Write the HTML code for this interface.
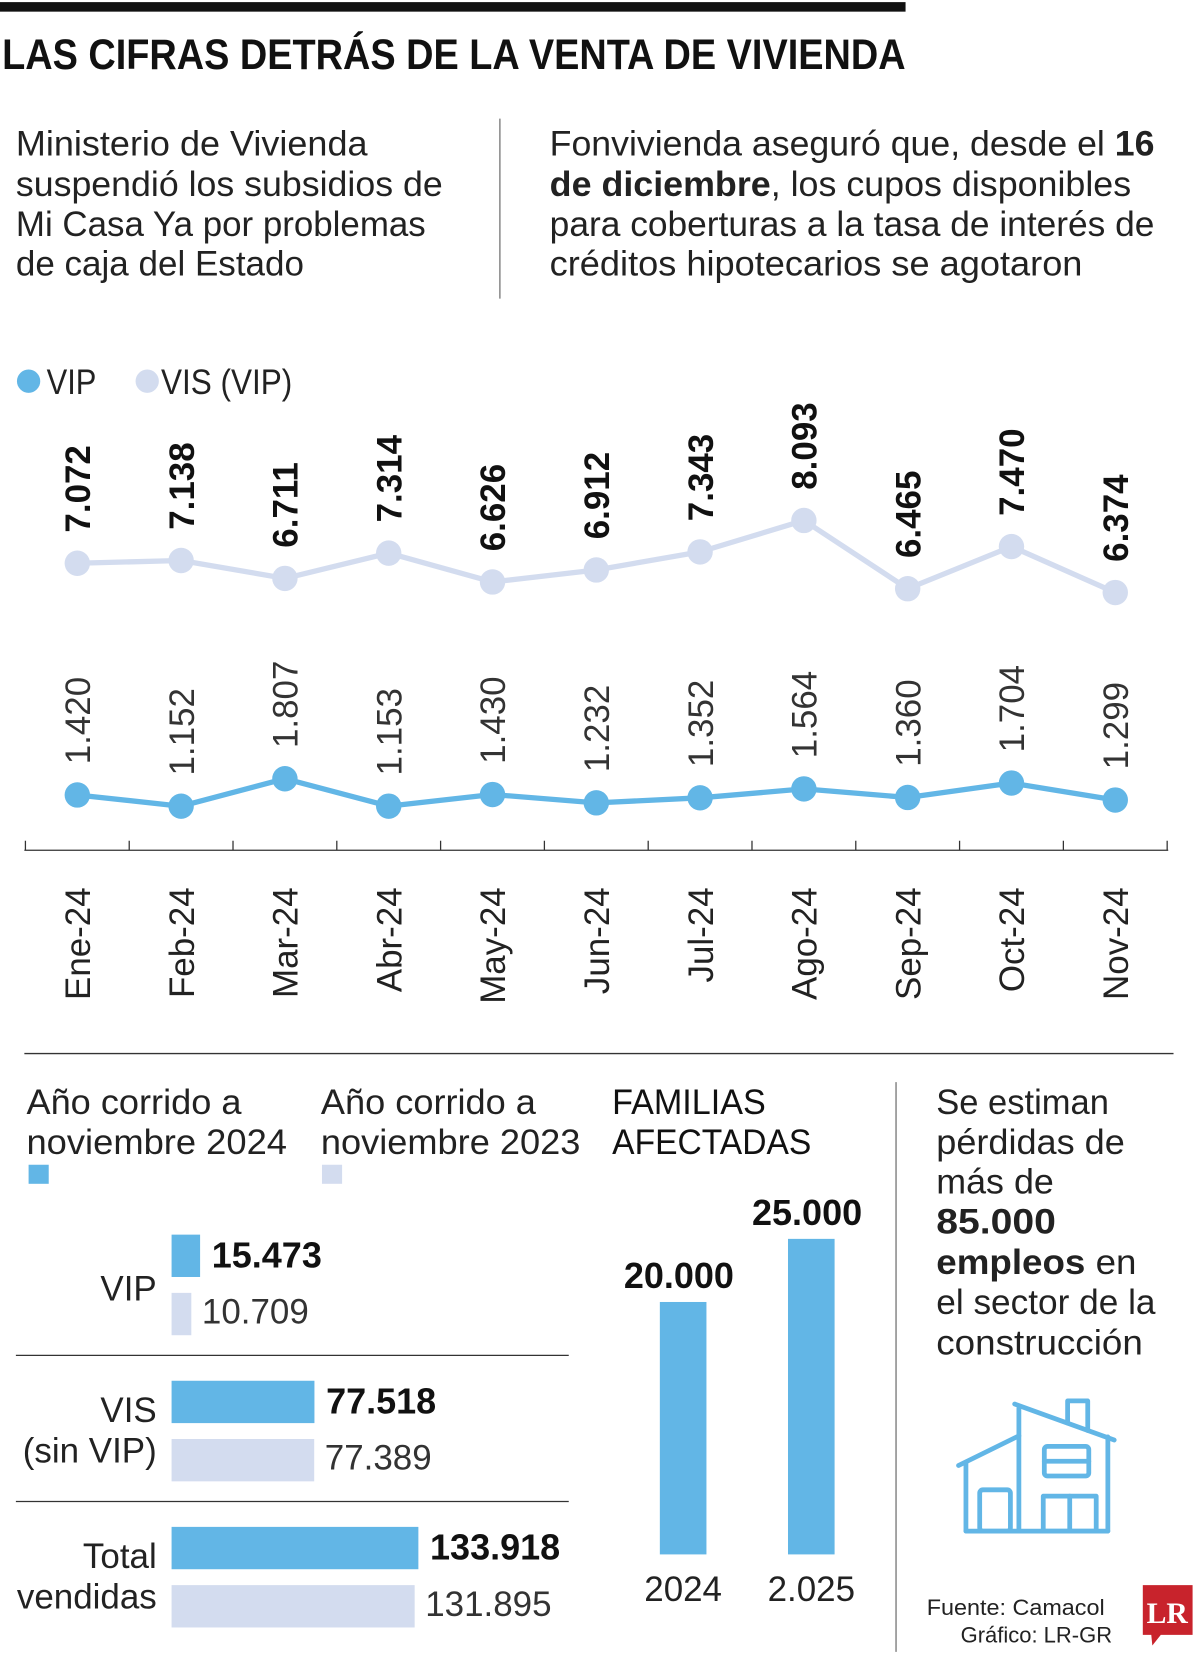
<!DOCTYPE html>
<html><head><meta charset="utf-8">
<style>
html,body{margin:0;padding:0;background:#fff;}
svg{display:block;}
text{font-family:"Liberation Sans",sans-serif;}
</style></head>
<body>
<svg id="root" width="1200" height="1655" viewBox="0 0 1133 1563" preserveAspectRatio="none" xmlns="http://www.w3.org/2000/svg">
<rect x="0" y="0" width="1133" height="1563" fill="#fff"/>
<rect x="0" y="2" width="855" height="9" fill="#111"/>
<text x="2" y="65" font-size="40" font-weight="bold" fill="#111" textLength="853" lengthAdjust="spacingAndGlyphs">LAS CIFRAS DETRÁS DE LA VENTA DE VIVIENDA</text>

<g font-size="33" fill="#222">
<text x="15" y="147" textLength="332" lengthAdjust="spacingAndGlyphs">Ministerio de Vivienda</text>
<text x="15" y="185" textLength="403" lengthAdjust="spacingAndGlyphs">suspendió los subsidios de</text>
<text x="15" y="223" textLength="387" lengthAdjust="spacingAndGlyphs">Mi Casa Ya por problemas</text>
<text x="15" y="260" textLength="272" lengthAdjust="spacingAndGlyphs">de caja del Estado</text>
</g>
<line x1="472" y1="112" x2="472" y2="282" stroke="#555" stroke-width="1"/>
<g font-size="33" fill="#222">
<text x="519" y="147" textLength="571" lengthAdjust="spacingAndGlyphs">Fonvivienda aseguró que, desde el <tspan font-weight="bold">16</tspan></text>
<text x="519" y="185" textLength="549" lengthAdjust="spacingAndGlyphs"><tspan font-weight="bold">de diciembre</tspan>, los cupos disponibles</text>
<text x="519" y="223" textLength="571" lengthAdjust="spacingAndGlyphs">para coberturas a la tasa de interés de</text>
<text x="519" y="260" textLength="503" lengthAdjust="spacingAndGlyphs">créditos hipotecarios se agotaron</text>
</g>

<g>
<circle cx="27" cy="360" r="11" fill="#62b6e6"/>
<text x="44" y="372" font-size="33" fill="#222" textLength="47" lengthAdjust="spacingAndGlyphs">VIP</text>
<circle cx="139" cy="360" r="11" fill="#d3dcef"/>
<text x="152" y="372" font-size="33" fill="#222" textLength="124" lengthAdjust="spacingAndGlyphs">VIS (VIP)</text>
</g>
<g id="line-chart"></g>

<line x1="23" y1="995" x2="1108" y2="995" stroke="#333" stroke-width="1.2"/>

<g font-size="33" fill="#222">
<text x="25" y="1052" textLength="203" lengthAdjust="spacingAndGlyphs">Año corrido a</text>
<text x="25" y="1090" textLength="246" lengthAdjust="spacingAndGlyphs">noviembre 2024</text>
<rect x="27" y="1100" width="19" height="18" fill="#62b6e6"/>
<text x="303" y="1052" textLength="203" lengthAdjust="spacingAndGlyphs">Año corrido a</text>
<text x="303" y="1090" textLength="245" lengthAdjust="spacingAndGlyphs">noviembre 2023</text>
<rect x="304" y="1100" width="19" height="18" fill="#d3dcef"/>
</g>
<g id="hbar-chart"></g>

<g font-size="33" fill="#111">
<text x="578" y="1052" textLength="145" lengthAdjust="spacingAndGlyphs">FAMILIAS</text>
<text x="578" y="1090" textLength="188" lengthAdjust="spacingAndGlyphs">AFECTADAS</text>
</g>
<g id="vbar-chart"></g>

<line x1="846" y1="1022" x2="846" y2="1560" stroke="#555" stroke-width="1"/>
<g font-size="33" fill="#222">
<text x="884" y="1052" textLength="163" lengthAdjust="spacingAndGlyphs">Se estiman</text>
<text x="884" y="1090" textLength="178" lengthAdjust="spacingAndGlyphs">pérdidas de</text>
<text x="884" y="1127" textLength="111" lengthAdjust="spacingAndGlyphs">más de</text>
<text x="884" y="1165" font-weight="bold" textLength="113" lengthAdjust="spacingAndGlyphs">85.000</text>
<text x="884" y="1203" textLength="189" lengthAdjust="spacingAndGlyphs"><tspan font-weight="bold">empleos</tspan> en</text>
<text x="884" y="1241" textLength="207" lengthAdjust="spacingAndGlyphs">el sector de la</text>
<text x="884" y="1279" textLength="195" lengthAdjust="spacingAndGlyphs">construcción</text>
</g>
<g fill="none" stroke="#62b6e6" stroke-width="4.5" stroke-linecap="round" stroke-linejoin="round">
<polyline points="905,1384 962,1356"/>
<polyline points="958,1326 1052,1360"/>
<polyline points="1008,1344 1008,1323 1027,1323 1027,1351"/>
<line x1="912" y1="1381" x2="912" y2="1446"/>
<line x1="962" y1="1330" x2="962" y2="1446"/>
<line x1="1046" y1="1357" x2="1046" y2="1446"/>
<line x1="912" y1="1446" x2="1046" y2="1446"/>
<rect x="925" y="1407" width="29" height="39" rx="3"/>
<rect x="985" y="1413" width="50" height="33"/>
<line x1="1010" y1="1413" x2="1010" y2="1446"/>
<rect x="986" y="1366" width="42" height="28" rx="3"/>
<line x1="986" y1="1380" x2="1028" y2="1380"/>
</g>
<g font-size="21" fill="#222" text-anchor="end">
<text x="1043" y="1525" textLength="168" lengthAdjust="spacingAndGlyphs">Fuente: Camacol</text>
<text x="1050" y="1551" textLength="143" lengthAdjust="spacingAndGlyphs">Gráfico: LR-GR</text>
</g>
<g>
<path d="M1079,1497 h47 v47 h-30 l-8,10 l-1,-10 h-8 z" fill="#c8232c"/>
<text x="1102" y="1533" style="font-family:'Liberation Serif',serif;font-weight:bold;font-size:28px" fill="#fff" text-anchor="middle">LR</text>
</g>
</svg>
<script>
var months = ["Ene-24","Feb-24","Mar-24","Abr-24","May-24","Jun-24","Jul-24","Ago-24","Sep-24","Oct-24","Nov-24"];
var visValues = [7072,7138,6711,7314,6626,6912,7343,8093,6465,7470,6374];
var vipValues = [1420,1152,1807,1153,1430,1232,1352,1564,1360,1704,1299];
var salesCategories = ["VIP","VIS (sin VIP)","Total vendidas"];
var sales2024 = [15473,77518,133918];
var sales2023 = [10709,77389,131895];
var familyYears = ["2024","2.025"];
var familyValues = [20000,25000];

var NS = "http://www.w3.org/2000/svg";
var BLUE = "#62b6e6", LIGHT = "#d3dcef";
function mk(parent, tag, attrs, txt){
  var e = document.createElementNS(NS, tag);
  for (var k in attrs) e.setAttribute(k, attrs[k]);
  if (txt != null) e.textContent = txt;
  parent.appendChild(e);
  return e;
}
function fmt(v){ return String(v).replace(/\B(?=(\d{3})+(?!\d))/g, "."); }

// Line chart (two panels sharing a scale, each with its own baseline)
var lc = document.getElementById("line-chart");
function xL(i){ return 73 + i * 98; }
function yL(v, base){ return base - v * 0.0396; }
function drawSeries(vals, color, name, bold, base){
  var pts = vals.map(function(v,i){ return xL(i)+","+yL(v, base); }).join(" ");
  var pl = mk(lc, "polyline", {points: pts, fill: "none", stroke: color, "stroke-width": 5, "stroke-linejoin": "round"});
  
  
  vals.forEach(function(v,i){
    var c = mk(lc, "circle", {cx: xL(i), cy: yL(v, base), r: 12, fill: color});
    
    
    var lx = xL(i) + 12, ly = yL(v, base) - 29;
    var t = mk(lc, "text", {x: lx, y: ly, transform: "rotate(-90 "+lx+" "+ly+")", "font-size": 33, fill: bold ? "#111" : "#333", "font-weight": bold ? "bold" : "normal", "text-anchor": "start"}, fmt(v));
    
    
  });
}
drawSeries(visValues, LIGHT, "vis", true, 812);
drawSeries(vipValues, BLUE, "vip", false, 807);
var ax = mk(lc, "line", {x1: 23, y1: 803, x2: 1103, y2: 803, stroke: "#333", "stroke-width": 1.2});


for (var k = 0; k <= months.length; k++){
  var tx = 24 + k * 98;
  var tk = mk(lc, "line", {x1: tx, y1: 794, x2: tx, y2: 803, stroke: "#333", "stroke-width": 1.2});
  
  
}
months.forEach(function(m,i){
  var lx = xL(i) + 12, ly = 838;
  var t = mk(lc, "text", {x: lx, y: ly, transform: "rotate(-90 "+lx+" "+ly+")", "font-size": 33, fill: "#222", "text-anchor": "end"}, m);
  
  
});

// Horizontal bars
var hb = document.getElementById("hbar-chart");
function wH(v){ return v * 0.00174; }
var rowTop = [1166, 1304, 1442];
var catLines = [["VIP"],["VIS","(sin VIP)"],["Total","vendidas"]];
salesCategories.forEach(function(c,i){
  var y0 = rowTop[i];
  var b1 = mk(hb, "rect", {x: 162, y: y0, width: wH(sales2024[i]), height: 40, fill: BLUE});
  
  
  var b2 = mk(hb, "rect", {x: 162, y: y0 + 55, width: wH(sales2023[i]), height: 40, fill: LIGHT});
  
  
  var t1 = mk(hb, "text", {x: 162 + wH(sales2024[i]) + 11, y: y0 + 31, "font-size": 34, "font-weight": "bold", fill: "#111"}, fmt(sales2024[i]));
  
  
  var t2 = mk(hb, "text", {x: 162 + wH(sales2023[i]) + 10, y: y0 + 84, "font-size": 33, fill: "#333"}, fmt(sales2023[i]));
  
  
  var lines = catLines[i];
  var baseY = lines.length === 1 ? y0 + 62 : y0 + 39;
  lines.forEach(function(l,j){
    var ct = mk(hb, "text", {x: 148, y: baseY + j * 38, "font-size": 33, fill: "#222", "text-anchor": "end"}, l);
    
    
  });
  if (i < salesCategories.length - 1){
    var sp = mk(hb, "line", {x1: 15, y1: y0 + 114, x2: 537, y2: y0 + 114, stroke: "#333", "stroke-width": 1.2});
    
    
  }
});

// Vertical bars
var vb = document.getElementById("vbar-chart");
var vxCenters = [645, 766];
function hV(v){ return v * 0.01192; }
familyValues.forEach(function(v,i){
  var h = hV(v), cx = vxCenters[i];
  var r = mk(vb, "rect", {x: cx - 22, y: 1468 - h, width: 44, height: h, fill: BLUE});
  
  
  var t = mk(vb, "text", {x: cx - 4, y: 1468 - h - 13, "font-size": 34, "font-weight": "bold", fill: "#111", "text-anchor": "middle"}, fmt(v));
  
  
  var yl = mk(vb, "text", {x: cx, y: 1512, "font-size": 33, fill: "#222", "text-anchor": "middle"}, familyYears[i]);
  
  
});
</script>
</body></html>
